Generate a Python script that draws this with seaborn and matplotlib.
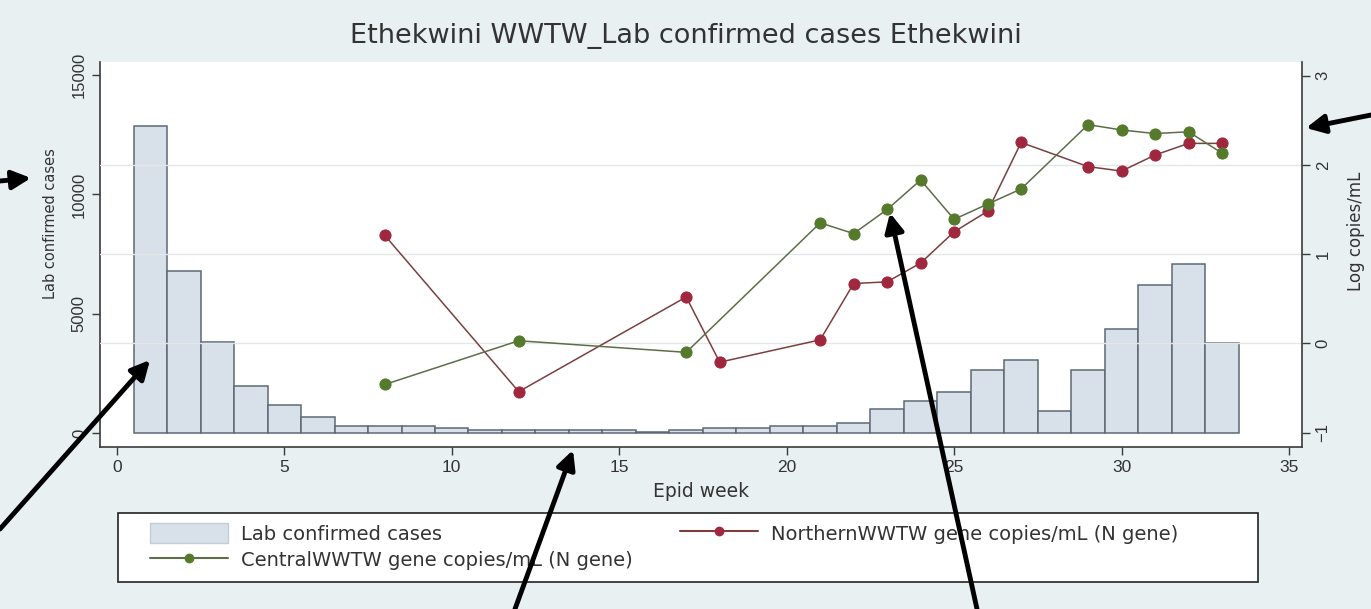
import numpy as np
import pandas as pd
import seaborn as sns
import matplotlib.pyplot as plt
from matplotlib.patches import Patch, Rectangle
from matplotlib.lines import Line2D
from matplotlib.text import Annotation

# weekly lab confirmed cases (epid week 1..33)
weeks = list(range(1, 34))
cases = [12880, 6800, 3800, 1950, 1160, 660, 300, 300, 300, 210, 130, 130,
         140, 140, 140, 60, 140, 210, 210, 300, 300, 400, 1005, 1355, 1700,
         2650, 3070, 935, 2650, 4360, 6220, 7070, 3770]

# log copies/mL, Northern WWTW
north_weeks = [8, 12, 17, 18, 21, 22, 23, 24, 25, 26, 27, 29, 30, 31, 32, 33]
north_vals = [1.21, -0.54, 0.52, -0.21, 0.04, 0.67, 0.69, 0.90, 1.25, 1.48,
              2.25, 1.98, 1.93, 2.11, 2.24, 2.24]

# log copies/mL, Central WWTW
central_weeks = [8, 12, 17, 21, 22, 23, 24, 25, 26, 27, 29, 30, 31, 32, 33]
central_vals = [-0.46, 0.03, -0.10, 1.35, 1.23, 1.50, 1.83, 1.39, 1.56, 1.73,
                2.45, 2.39, 2.35, 2.37, 2.13]

title = "Ethekwini WWTW_Lab confirmed cases Ethekwini"
lab_cases = "Lab confirmed cases"
north_lab = "NorthernWWTW gene copies/mL (N gene)"
central_lab = "CentralWWTW gene copies/mL (N gene)"

bars = pd.DataFrame({'week': weeks, 'cases': cases})
north = pd.DataFrame({'week': north_weeks, 'val': north_vals})
central = pd.DataFrame({'week': central_weeks, 'val': central_vals})

sns.set_style('white')
plt.rcParams['font.family'] = ['Liberation Sans', 'DejaVu Sans']
wide = ['DejaVu Sans']  # the source image is stretched sideways

bg = '#e9f0f2'
txt = '#333333'
bar_fc = '#d8e0ea'
bar_ec = '#5d6975'
red_m, red_l = '#a0283e', '#7a4040'
grn_m, grn_l = '#557a2c', '#5c6e48'

fig = plt.figure(figsize=(13.71, 6.09), dpi=100, facecolor=bg)
ax = fig.add_axes([0.073, 0.266, 0.877, 0.632])
ax.set_facecolor('white')

sns.barplot(data=bars, x='week', y='cases', native_scale=True, width=1,
            color=bar_fc, edgecolor=bar_ec, linewidth=1.1, saturation=1,
            ax=ax, zorder=2)
for p in ax.patches:
    p.set_facecolor(bar_fc)

ax2 = ax.twinx()
for y in [0, 1, 2]:
    ax2.axhline(y, color='#e4e6e8', lw=1, zorder=0)
sns.lineplot(data=north, x='week', y='val', ax=ax2, color=red_l, lw=1.1,
             marker='o', markersize=8, markerfacecolor=red_m,
             markeredgecolor=red_m)
sns.lineplot(data=central, x='week', y='val', ax=ax2, color=grn_l, lw=1.1,
             marker='o', markersize=8, markerfacecolor=grn_m,
             markeredgecolor=grn_m)

ax.set_xlim(-0.5, 35.4)
ax.set_ylim(-590, 15550)
ax2.set_ylim(-1.16, 3.15)
ax.set_xticks([0, 5, 10, 15, 20, 25, 30, 35])
ax.set_yticks([0, 5000, 10000, 15000])
ax2.set_yticks([-1, 0, 1, 2, 3])

for a in (ax, ax2):
    for s in a.spines.values():
        s.set_visible(False)
ax.spines['left'].set_visible(True)
ax.spines['bottom'].set_visible(True)
ax2.spines['right'].set_visible(True)
for s in (ax.spines['left'], ax.spines['bottom'], ax2.spines['right']):
    s.set_color('#3a3a3a')
    s.set_linewidth(1.2)

ax.tick_params(axis='both', length=6, width=1, color='#3a3a3a',
               labelsize=12, labelcolor=txt, direction='out',
               left=True, bottom=True)
ax.tick_params(axis='y', labelrotation=90)
ax2.tick_params(axis='y', length=6, width=1, color='#3a3a3a', labelsize=12,
                labelcolor=txt, direction='out', right=True,
                labelrotation=90)
for t in ax.get_yticklabels() + ax2.get_yticklabels():
    t.set_verticalalignment('center')
for t in ax.get_xticklabels():
    t.set_fontsize(12.5)

ax.set_xlabel('Epid week', fontsize=13.5, color=txt, labelpad=5, family=wide)
ax.set_ylabel(lab_cases, fontsize=10.5, color=txt, family=wide)
ax2.set_ylabel('Log copies/mL', fontsize=12, color=txt, family=wide)
ax.yaxis.set_label_coords(-0.035, 0.58)
ax2.yaxis.set_label_coords(1.037, 0.56)
fig.suptitle(title, fontsize=19.5, color=txt, y=0.962, family=wide)

# legend box (drawn separately so its size can match the source)
fig.add_artist(Rectangle((118 / 1371, 1 - 582 / 609), 1140 / 1371, 69 / 609,
                         transform=fig.transFigure, facecolor='white',
                         edgecolor='#222222', linewidth=1.2, zorder=4))
handles = [
    Patch(facecolor=bar_fc, edgecolor='#c4ccd6', label=lab_cases),
    Line2D([], [], color=grn_l, marker='o', markersize=6,
           markerfacecolor=grn_m, markeredgecolor=grn_m, label=central_lab),
    Line2D([], [], color=red_l, marker='o', markersize=6,
           markerfacecolor=red_m, markeredgecolor=red_m, label=north_lab),
]
leg = fig.legend(handles=handles, ncol=2,
                 bbox_to_anchor=(150 / 1371, 1 - 523 / 609), loc='upper left',
                 borderaxespad=0, borderpad=0, frameon=False,
                 prop={'family': wide, 'size': 14},
                 handlelength=4.0, handleheight=1.2, labelspacing=0.3,
                 handletextpad=0.7, columnspacing=2.4)
leg.set_zorder(5)
for t in leg.get_texts():
    t.set_color(txt)

# black annotation arrows overlaid on the original figure (figure pixels)
arrows = [((0, 428), (31, 431)), ((0, 80), (150, 249)),
          ((515, 0), (573, 159)), ((977, 0), (890, 396)),
          ((1371, 494), (1306, 481))]
for tail, tip in arrows:
    arr = Annotation('', xy=tip, xytext=tail, xycoords='figure pixels',
                     textcoords='figure pixels', annotation_clip=False,
                     arrowprops=dict(arrowstyle='-|>', lw=3.5, color='black',
                                     mutation_scale=28, shrinkA=0, shrinkB=0))
    arr.set_zorder(10)
    fig.add_artist(arr)

plt.savefig('out.png', dpi=100, facecolor=bg)
